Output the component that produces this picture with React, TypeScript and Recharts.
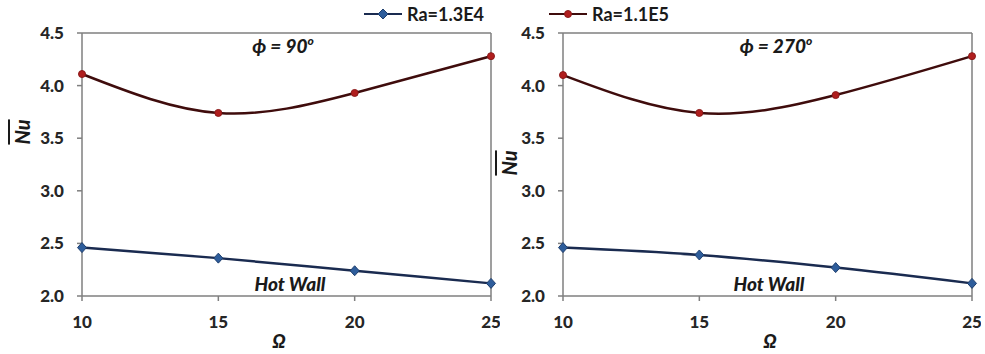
import { LineChart, Line, XAxis, YAxis, ReferenceLine } from "recharts";

const omega = [10, 15, 20, 25];
const nuLowRa90 = [2.46, 2.36, 2.24, 2.12];
const nuHighRa90 = [4.11, 3.74, 3.93, 4.28];
const nuLowRa270 = [2.46, 2.39, 2.27, 2.12];
const nuHighRa270 = [4.1, 3.74, 3.91, 4.28];
const xTicks = [10, 15, 20, 25];
const yTicks = [2.0, 2.5, 3.0, 3.5, 4.0, 4.5];
const seriesNames = ["Ra=1.3E4", "Ra=1.1E5"];

const FONT = "Lato, 'Open Sans', sans-serif";
const AXIS = "#7f7f7f";
const BLUE_LINE = "#1a2b50";
const BLUE_DOT = "#2e5d9b";
const RED_LINE = "#3f0c0c";
const RED_DOT = "#b01e1e";

const build = (low: number[], high: number[]) =>
  omega.map((o, i) => ({ omega: o, low: low[i], high: high[i] }));

const Diamond = (props: any) => {
  const { cx, cy, index } = props;
  if (cx == null || cy == null) return null;
  return (
    <path
      key={`d-${index}`}
      d={`M${cx},${cy - 5}L${cx + 4.5},${cy}L${cx},${cy + 5}L${cx - 4.5},${cy}Z`}
      fill={BLUE_DOT}
      stroke="#1f3f6e"
      strokeWidth={1}
    />
  );
};

const tickStyle = { fill: "#262626", fontSize: 17, fontWeight: 900, fontFamily: FONT };

function Panel({ data, left, phi, nuX, nuY }: { data: any[]; left: number; phi: string; nuX: number; nuY: number }) {
  return (
    <div style={{ position: "absolute", left, top: 0, width: 500, height: 354 }}>
      <LineChart width={500} height={354} data={data} margin={{ top: 33, right: 9, bottom: 0, left: 0 }}>
        <XAxis
          dataKey="omega"
          type="number"
          domain={[10, 25]}
          ticks={xTicks}
          height={58}
          stroke={AXIS}
          strokeWidth={1.5}
          tickSize={5}
          tickMargin={15}
          tick={tickStyle}
        />
        <YAxis
          type="number"
          domain={[2, 4.5]}
          ticks={yTicks}
          width={82}
          stroke={AXIS}
          strokeWidth={1.5}
          tickSize={5}
          tickMargin={13}
          tick={tickStyle}
          tickFormatter={(v: number) => v.toFixed(1)}
        />
        <ReferenceLine y={4.5} stroke={AXIS} strokeWidth={1.5} />
        <ReferenceLine x={25} stroke={AXIS} strokeWidth={1.5} />
        <Line
          type="monotone"
          dataKey="low"
          stroke={BLUE_LINE}
          strokeWidth={2.5}
          dot={<Diamond />}
          isAnimationActive={false}
        />
        <Line
          type="natural"
          dataKey="high"
          stroke={RED_LINE}
          strokeWidth={2.5}
          dot={{ r: 3.5, fill: RED_DOT, stroke: "#8b1a1a", strokeWidth: 1 }}
          isAnimationActive={false}
        />
      </LineChart>
      {/* y label */}
      <div
        style={{
          position: "absolute",
          left: nuX,
          top: nuY,
          transform: "translate(-50%, -50%) rotate(-90deg)",
          fontFamily: FONT,
          fontWeight: 900,
          fontStyle: "italic",
          fontSize: 20,
          color: "#1a1a1a",
          textDecoration: "overline",
          lineHeight: 1.3,
        }}
      >
        Nu
      </div>
      {/* x label */}
      <div
        style={{
          position: "absolute",
          left: phi === "90" ? 279 : 289,
          top: 340,
          transform: "translate(-50%, -50%)",
          fontFamily: FONT,
          fontWeight: 900,
          fontStyle: "italic",
          fontSize: 19,
          color: "#1a1a1a",
        }}
      >
        Ω
      </div>
      {/* phi annotation */}
      <div
        style={{
          position: "absolute",
          left: phi === "90" ? 283 : 295,
          top: 45,
          transform: "translate(-50%, -50%)",
          fontFamily: FONT,
          fontWeight: 900,
          fontStyle: "italic",
          fontSize: 19,
          color: "#1a1a1a",
          whiteSpace: "nowrap",
        }}
      >
        ϕ = {phi}
        <sup style={{ fontSize: 12 }}>o</sup>
      </div>
      {/* hot wall */}
      <div
        style={{
          position: "absolute",
          left: phi === "90" ? 290 : 288,
          top: 283,
          transform: "translate(-50%, -50%)",
          fontFamily: FONT,
          fontWeight: 900,
          fontStyle: "italic",
          fontSize: 19,
          color: "#1a1a1a",
          whiteSpace: "nowrap",
        }}
      >
        Hot Wall
      </div>
    </div>
  );
}

const LegendItem = ({ left, name, diamond }: { left: number; name: string; diamond: boolean }) => (
  <div style={{ position: "absolute", left, top: 4, display: "flex", alignItems: "center", height: 20 }}>
    <svg width={40} height={12}>
      <line x1={0} y1={6} x2={38} y2={6} stroke={diamond ? BLUE_LINE : RED_LINE} strokeWidth={2} />
      {diamond ? (
        <path d="M19,1L24,6L19,11L14,6Z" fill={BLUE_DOT} stroke="#1f3f6e" />
      ) : (
        <circle cx={19} cy={6} r={3.5} fill={RED_DOT} stroke="#8b1a1a" />
      )}
    </svg>
    <span style={{ fontFamily: FONT, fontWeight: 700, fontSize: 18, color: "#1a1a1a", marginLeft: 3 }}>{name}</span>
  </div>
);

export default function App() {
  return (
    <div style={{ position: "absolute", left: 0, top: 0, width: 985, height: 354, background: "#fff" }}>
      <Panel data={build(nuLowRa90, nuHighRa90)} left={0} phi="90" nuX={22} nuY={132} />
      <Panel data={build(nuLowRa270, nuHighRa270)} left={481} phi="270" nuX={28} nuY={163} />
      <LegendItem left={364} name={seriesNames[0]} diamond />
      <LegendItem left={549} name={seriesNames[1]} diamond={false} />
    </div>
  );
}
